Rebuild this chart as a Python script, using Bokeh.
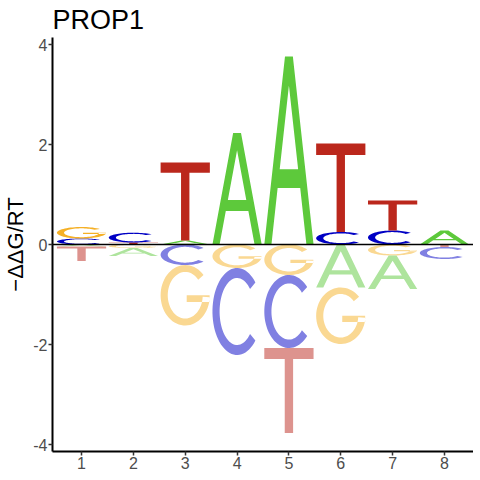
import numpy as np
from bokeh.plotting import figure
from bokeh.models import ColumnDataSource, Span, FixedTicker, Range1d
from bokeh.embed import file_html
from bokeh.resources import INLINE

# ---- data ----
positions = [1, 2, 3, 4, 5, 6, 7, 8]
letters = ["A", "C", "G", "T"]
A_vals = [-0.04, -0.16, 0.08, 2.23, 3.76, -0.86, -0.67, 0.28]
C_vals = [0.12, 0.195, -0.41, -1.74, -1.46, 0.25, 0.28, -0.24]
G_vals = [0.23, -0.07, -1.21, -0.47, -0.61, -1.13, -0.22, 0.0]
T_vals = [-0.29, 0.04, 1.56, 0.0, -1.70, 1.77, 0.60, -0.05]
y_ticks = [-4, -2, 0, 2, 4]
y_tick_labels = ["-4", "-2", "0", "2", "4"]
x_tick_labels = ["1", "2", "3", "4", "5", "6", "7", "8"]
title_text = "PROP1"
y_label = "\u2212\u0394\u0394G/RT"

pos_colors = {"A": "#5DC93B", "C": "#0000C4", "G": "#F5B026", "T": "#BB271C"}


def blend(hexcol, a=0.5):
    r, g, b = (int(hexcol[i:i + 2], 16) for i in (1, 3, 5))
    r, g, b = (round(255 - a * (255 - c)) for c in (r, g, b))
    return "#%02X%02X%02X" % (r, g, b)


neg_colors = {k: blend(v) for k, v in pos_colors.items()}

FONT = "Liberation Sans"
LETTER_W = 0.95


# ---- unit letter outlines (in a 0..1 box) ----
def arc(cx, cy, rx, ry, a0, a1, n=60):
    t = np.radians(np.linspace(a0, a1, n))
    return list(cx + rx * np.cos(t)), list(cy + ry * np.sin(t))


def ring(cx, cy, rx, ry, rxi, ryi, a0, a1):
    ox, oy = arc(cx, cy, rx, ry, a0, a1)
    ix, iy = arc(cx, cy, rxi, ryi, a1, a0)
    return [(ox + ix, oy + iy)]


def shape(letter):
    if letter == "T":
        xs = [0, 1, 1, 0.585, 0.585, 0.415, 0.415, 0]
        ys = [1, 1, 0.87, 0.87, 0, 0, 0.87, 0.87]
        return [[(xs, ys)]]
    if letter == "A":
        s = 0.42
        ox = [0, 0.145, 0.145 + s * 0.30, 0.855 - s * 0.30, 0.855, 1, 0.58, 0.42]
        oy = [0, 0, 0.30, 0.30, 0, 0, 1, 1]
        hx = [0.145 + s * 0.40, 0.855 - s * 0.40, 0.5]
        hy = [0.40, 0.40, (0.855 - 0.145) / (2 * s)]
        return [[(ox, oy), (hx, hy)]]
    if letter == "C":
        return [ring(0.5, 0.5, 0.5, 0.5, 0.355, 0.385, 42, 318)]
    if letter == "G":
        g = ring(0.5, 0.5, 0.5, 0.5, 0.355, 0.385, 42, 356)
        bar = [([0.53, 0.995, 0.995, 0.53], [0.39, 0.39, 0.50, 0.50])]
        return [g, bar]


vals = {"A": A_vals, "C": C_vals, "G": G_vals, "T": T_vals}

XS, YS, COLS = [], [], []
for i, pos in enumerate(positions):
    pos_items = sorted([(vals[L][i], L) for L in letters if vals[L][i] > 0])
    neg_items = sorted([(-vals[L][i], L) for L in letters if vals[L][i] < 0])
    stacks = []
    base = 0.0
    for h, L in pos_items:
        stacks.append((L, base, h, pos_colors[L]))
        base += h
    base = 0.0
    for h, L in neg_items:
        stacks.append((L, base - h, h, neg_colors[L]))
        base -= h
    for L, y0, h, col in stacks:
        polys = []
        for poly in shape(L):
            rings = []
            for rx, ry in poly:
                rings.append((
                    [pos - LETTER_W / 2 + u * LETTER_W for u in rx],
                    [y0 + v * h for v in ry],
                ))
            polys.append(rings)
        XS.append([[r[0] for r in p] for p in polys])
        YS.append([[r[1] for r in p] for p in polys])
        COLS.append(col)

src = ColumnDataSource(dict(xs=XS, ys=YS, color=COLS))

p = figure(frame_width=421, frame_height=414, output_backend="svg", toolbar_location=None,
           x_range=Range1d(0.44, 8.56), y_range=Range1d(-4.14, 4.14),
           min_border_left=43, min_border_right=0, min_border_top=29,
           min_border_bottom=20, title=title_text)

p.multi_polygons(xs="xs", ys="ys", fill_color="color", line_color=None, source=src)
p.add_layout(Span(location=0, dimension="width", line_color="black", line_width=1.5))

p.title.text_font = FONT
p.title.text_font_size = "27px"
p.title.text_font_style = "normal"
p.title.text_color = "black"
p.title.standoff = 5
p.title.offset = 0

p.xgrid.visible = False
p.ygrid.visible = False
p.outline_line_color = None
p.background_fill_color = "white"
p.border_fill_color = "white"

p.xaxis.ticker = FixedTicker(ticks=positions)
p.xaxis.major_label_overrides = {pos: lab for pos, lab in zip(positions, x_tick_labels)}
p.yaxis.ticker = FixedTicker(ticks=y_ticks)
p.yaxis.major_label_overrides = {t: lab for t, lab in zip(y_ticks, y_tick_labels)}
p.yaxis.axis_label = y_label

for ax in (p.xaxis[0], p.yaxis[0]):
    ax.axis_line_color = "black"
    ax.axis_line_width = 2
    ax.major_tick_line_color = "#333333"
    ax.major_tick_line_width = 1.5
    ax.major_tick_in = 0
    ax.major_tick_out = 4
    ax.minor_tick_line_color = None
    ax.major_label_text_font = FONT
    ax.major_label_text_font_size = "16px"
    ax.major_label_text_color = "#4D4D4D"
    ax.major_label_standoff = 1
    ax.axis_label_text_font = FONT
    ax.axis_label_text_font_size = "22px"
    ax.axis_label_text_font_style = "normal"
    ax.axis_label_text_color = "black"
    ax.axis_label_standoff = 2

open("out.html", "w").write(file_html(p, INLINE))
